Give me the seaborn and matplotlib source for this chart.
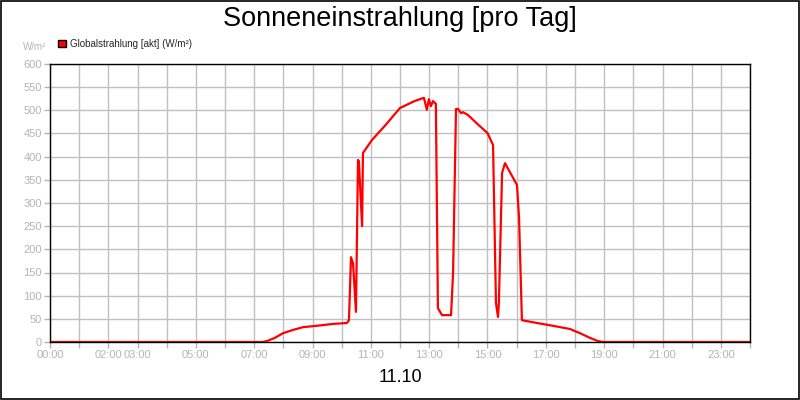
import matplotlib
matplotlib.use("Agg")
import matplotlib.pyplot as plt
from matplotlib.patches import Patch, Rectangle
import pandas as pd
import seaborn as sns

# Globalstrahlung vom 11.10 (Stunde des Tages, W/m²)
hours = [0.0, 7.3, 7.44, 7.71, 7.99, 8.33, 8.67, 9.15, 9.70, 10.18,
         10.25, 10.32, 10.39, 10.49, 10.56, 10.59,
         10.70, 10.73, 11.04, 11.5, 12.0, 12.5, 12.82, 12.92, 12.99, 13.06, 13.13,
         13.23, 13.30, 13.44, 13.75, 13.82, 13.92, 13.99, 14.09, 14.16, 14.33,
         14.7, 15.0, 15.19, 15.29, 15.36, 15.39, 15.50, 15.60, 16.01, 16.08,
         16.18, 16.7, 17.24, 17.83, 18.17, 18.51, 18.79, 18.96, 24.0]
radiation = [0, 0, 2, 9, 19, 26, 32, 35, 39, 41,
             47, 183, 170, 65, 393, 390,
             250, 408, 436, 468, 505, 520, 527, 501, 524, 509, 520,
             514, 73, 58, 58, 150, 503, 503, 494, 496, 490,
             468, 451, 425, 84, 54, 84, 365, 386, 339, 270,
             47, 41, 35, 28, 19, 9, 2, 0, 0]

tick_hours = list(range(25))
tick_labels = ["00:00", "", "02:00", "03:00", "", "05:00", "", "07:00", "", "09:00",
               "", "11:00", "", "13:00", "", "15:00", "", "17:00", "", "19:00",
               "", "21:00", "", "23:00", ""]
y_ticks = list(range(0, 601, 50))

df = pd.DataFrame({"Stunde": hours, "W/m²": radiation})

sns.set_style("white")
plt.rcParams["font.family"] = ["Liberation Sans", "DejaVu Sans"]

fig = plt.figure(figsize=(8, 4), dpi=100)
ax = fig.add_axes([50 / 800, 1 - 342 / 400, 700 / 800, 278 / 400])

sns.lineplot(data=df, x="Stunde", y="W/m²", ax=ax, color="#ff0000", linewidth=1.6)

grey = "#b4b4b4"
ax.set_xlim(0, 24)
ax.set_ylim(0, 600)
ax.set_xticks(tick_hours)
ax.set_xticklabels(tick_labels)
ax.set_yticks(y_ticks)
ax.grid(True, color="#c0c0c0", linewidth=1)
ax.set_axisbelow(True)
ax.tick_params(axis="both", direction="out", length=4, width=1, color=grey,
               labelcolor=grey, labelsize=8, pad=2, bottom=True, left=True)
for s in ax.spines.values():
    s.set_color("black")
    s.set_linewidth(1)
ax.set_xlabel("")
ax.set_ylabel("")

fig.text(0.5, 0.953, "Sonneneinstrahlung [pro Tag]", ha="center", va="center",
         fontsize=19.5, color="black")
fig.text(0.5, 0.055, "11.10", ha="center", va="center", fontsize=13, color="black")
fig.text(0.043, 0.882, "W/m²", ha="center", va="center", fontsize=7, color=grey)

fig.legend(handles=[Patch(facecolor="#ff0000", edgecolor="black",
                          label="Globalstrahlung [akt] (W/m²)")],
           loc="center left", bbox_to_anchor=(0.073, 0.89), frameon=False,
           fontsize=7, handlelength=0.8, handleheight=0.8, handletextpad=0.4,
           borderpad=0, borderaxespad=0)

fig.patches.append(Rectangle((0.001, 0.002), 0.998, 0.996, transform=fig.transFigure,
                             fill=False, edgecolor="black", linewidth=1.2))

fig.savefig("out.png", dpi=100)
